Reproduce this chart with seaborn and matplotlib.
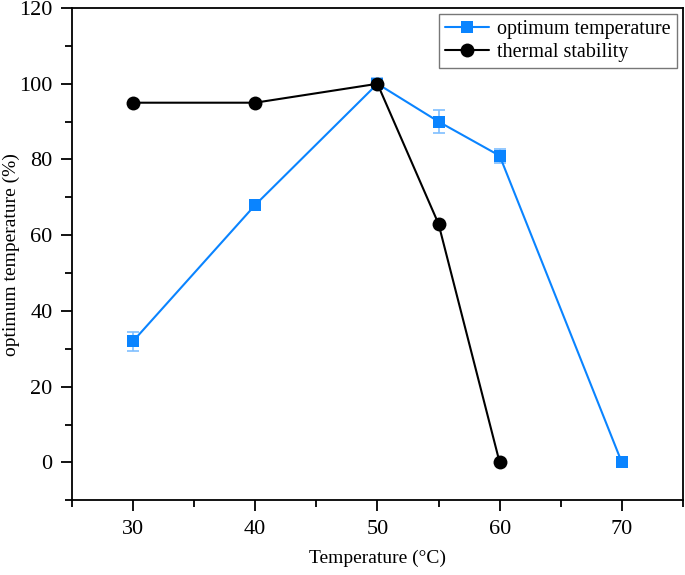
import seaborn as sns
import matplotlib.pyplot as plt
from matplotlib.ticker import MultipleLocator
import pandas as pd

# data
temp_opt = [30, 40, 50, 55, 60, 70]
activity_opt = [32, 68, 100, 90, 81, 0]
err_opt = [2.5, 1.0, 1.5, 3.0, 1.8, 0]

temp_stab = [30, 40, 50, 55, 60]
activity_stab = [95, 95, 100, 63, 0]

blue = '#0a84ff'

sns.set_style("ticks")
plt.rcParams['font.family'] = ['Liberation Serif', 'DejaVu Serif']
plt.rcParams['text.color'] = 'black'
plt.rcParams['axes.labelcolor'] = 'black'
plt.rcParams['xtick.color'] = 'black'
plt.rcParams['ytick.color'] = 'black'
plt.rcParams['xtick.labelsize'] = 16
plt.rcParams['ytick.labelsize'] = 16
plt.rcParams['xtick.direction'] = 'out'
plt.rcParams['ytick.direction'] = 'out'

fig = plt.figure(figsize=(6.85, 5.75), dpi=100)
ax = fig.add_axes([0.105, 0.13, 0.892, 0.856])

df_opt = pd.DataFrame({'t': temp_opt, 'a': activity_opt})
df_stab = pd.DataFrame({'t': temp_stab, 'a': activity_stab})

ax.errorbar(temp_opt, activity_opt, yerr=err_opt, fmt='none',
            ecolor='#7fbfff', elinewidth=1.2, capsize=4, capthick=1.2, zorder=2)
sns.lineplot(data=df_opt, x='t', y='a', ax=ax, color=blue, marker='s',
             markersize=9, markeredgewidth=0, linewidth=1.5,
             label='optimum temperature', zorder=3)
sns.lineplot(data=df_stab, x='t', y='a', ax=ax, color='black', marker='o',
             markersize=10, markeredgewidth=0, linewidth=1.5,
             label='thermal stability', zorder=4)

ax.set_xlim(25, 75)
ax.set_ylim(-10, 120)
ax.xaxis.set_major_locator(MultipleLocator(10))
ax.xaxis.set_minor_locator(MultipleLocator(5))
ax.yaxis.set_major_locator(MultipleLocator(20))
ax.yaxis.set_minor_locator(MultipleLocator(10))
ax.tick_params(which='major', length=8, width=1.3, labelsize=16, pad=6)
ax.tick_params(which='minor', length=5, width=1.3)
for s in ax.spines.values():
    s.set_linewidth(1.3)
    s.set_color('black')

ax.set_xlabel('Temperature (°C)', fontsize=14)
ax.set_ylabel('optimum temperature (%)', fontsize=14)
ax.xaxis.set_label_coords(0.5, -0.10)
ax.yaxis.set_label_coords(-0.085, 0.5)

leg = ax.legend(loc='upper right', fontsize=14.5, frameon=True, fancybox=False,
                borderaxespad=0.3, handlelength=2.2, labelspacing=0.2,
                borderpad=0.3, handletextpad=0.4)
leg.get_frame().set_edgecolor('#555555')
leg.get_frame().set_linewidth(1.0)

plt.savefig('out.png', dpi=100)
plt.close()
